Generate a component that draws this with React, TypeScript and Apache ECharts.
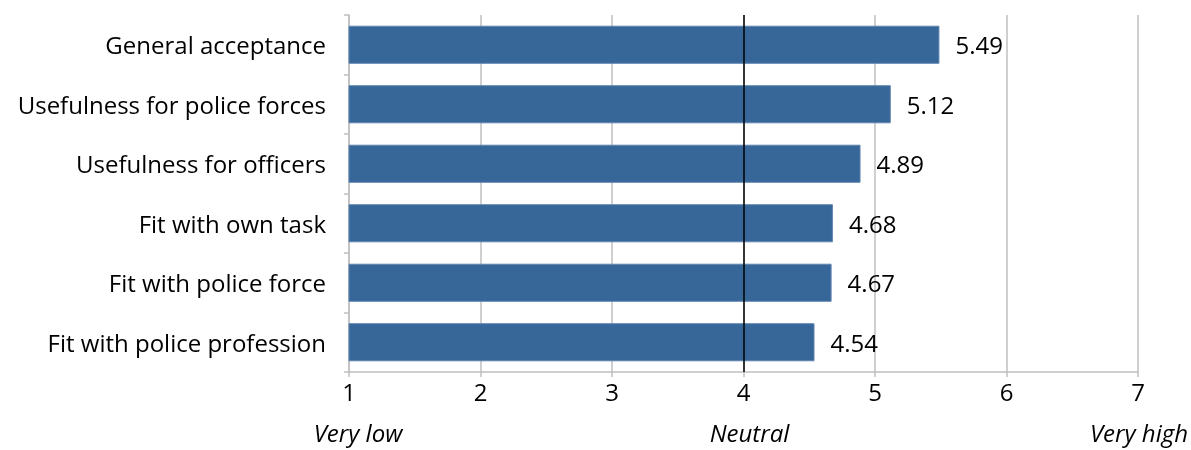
import React, { useEffect, useRef } from "react";
import * as echarts from "echarts";

const categories = [
  "General acceptance",
  "Usefulness for police forces",
  "Usefulness for officers",
  "Fit with own task",
  "Fit with police force",
  "Fit with police profession",
];
const values = [5.49, 5.12, 4.89, 4.68, 4.67, 4.54];
const scaleLabels = [
  { text: "Very low", value: 1 },
  { text: "Neutral", value: 4 },
  { text: "Very high", value: 7 },
];

const FONT = "'Open Sans', Lato, sans-serif";
const FS = 24;

export default function App() {
  const ref = useRef<HTMLDivElement>(null);
  useEffect(() => {
    document.body.style.margin = "0";
    const chart = echarts.init(ref.current!, null, { renderer: "svg" });
    const gridLeft = 349;
    const gridRight = 53;
    const plotW = 1191 - gridLeft - gridRight;
    const xPix = (v: number) => gridLeft + ((v - 1) / 6) * plotW;
    chart.setOption({
      animation: false,
      textStyle: { fontFamily: FONT },
      grid: { left: gridLeft, right: gridRight, top: 15, bottom: 78, containLabel: false },
      xAxis: {
        type: "value",
        min: 1,
        max: 7,
        interval: 1,
        axisLine: { show: true, lineStyle: { color: "#bfbfbf", width: 1.5 } },
        axisTick: { show: true, length: 5, lineStyle: { color: "#bfbfbf", width: 1.5 } },
        splitLine: { show: true, lineStyle: { color: "#bfbfbf", width: 1.5 } },
        axisLabel: { color: "#000", fontSize: FS, margin: 7, fontFamily: FONT },
      },
      yAxis: {
        type: "category",
        inverse: true,
        data: categories,
        axisLine: { show: true, lineStyle: { color: "#bfbfbf", width: 1.5 } },
        axisTick: { show: true, length: 5, alignWithLabel: false, lineStyle: { color: "#bfbfbf", width: 1.5 } },
        axisLabel: { color: "#000", fontSize: FS, margin: 23, fontFamily: FONT },
      },
      series: [
        {
          type: "bar",
          data: values,
          barCategoryGap: "36%",
          itemStyle: { color: "#376699", borderColor: "#5f84b1", borderWidth: 1 },
          label: {
            show: true,
            position: "right",
            distance: 16,
            color: "#000",
            fontSize: FS,
            fontFamily: FONT,
            formatter: (p: any) => p.value.toFixed(2),
          },
          markLine: {
            silent: true,
            symbol: "none",
            label: { show: false },
            lineStyle: { color: "#000", width: 1.5, type: "solid" },
            data: [{ xAxis: 4 }],
          },
        },
      ],
      graphic: scaleLabels.map((s, i) => ({
        type: "text",
        x: i === 2 ? 1188 : xPix(s.value) + (i === 0 ? 9 : 6),
        y: 420,
        style: {
          text: s.text,
          fontSize: 24,
          fontStyle: "italic",
          fontFamily: FONT,
          fill: "#000",
          textAlign: i === 2 ? "right" : "center",
          textVerticalAlign: "top",
        },
      })),
    });
    return () => chart.dispose();
  }, []);
  return <div ref={ref} style={{ position: "fixed", left: 0, top: 0, width: 1191, height: 450 }} />;
}
